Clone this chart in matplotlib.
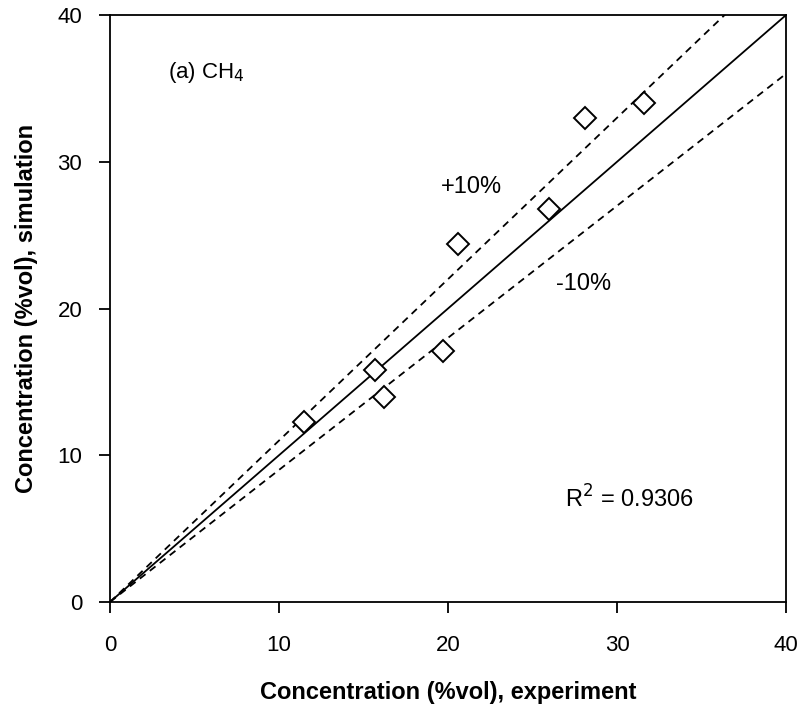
import numpy as np
from matplotlib import pyplot as plt

plt.rcParams['font.family'] = ['Liberation Sans', 'DejaVu Sans']

# measured vs simulated CH4 concentration (%vol)
experiment = [11.5, 15.7, 16.2, 19.7, 20.6, 26.0, 28.1, 31.6]
simulation = [12.3, 15.8, 14.0, 17.1, 24.4, 26.8, 33.0, 34.0]
r2_text = "R$^2$ = 0.9306"

fig = plt.figure(figsize=(8.08, 7.17), dpi=100)
ax = fig.add_axes([0.1361, 0.1604, 0.8367, 0.8186])

xline = np.array([0, 40])
ax.plot(xline, xline, color='black', lw=1.3)
ax.plot(xline, 1.1 * xline, color='black', lw=1.3, ls=(0, (4, 3)))
ax.plot(xline, 0.9 * xline, color='black', lw=1.3, ls=(0, (4, 3)))

ax.plot(experiment, simulation, ls='none', marker='D', ms=11,
        mfc='white', mec='black', mew=1.4, clip_on=False)

ax.text(3.45, 36.1, "(a) CH$_4$", fontsize=16, va='center')
ax.text(19.6, 28.3, "+10%", fontsize=17, va='center')
ax.text(26.4, 21.7, "-10%", fontsize=17, va='center')
ax.text(26.9, 7.0, r2_text, fontsize=17, va='center')

ax.set_xlim(0, 40)
ax.set_ylim(0, 40)
ax.set_xticks([0, 10, 20, 30, 40])
ax.set_yticks([0, 10, 20, 30, 40])
ax.tick_params(direction='out', length=8, width=1.3, labelsize=16)
ax.tick_params(axis='y', pad=12)
ax.tick_params(axis='x', pad=16)
for s in ax.spines.values():
    s.set_linewidth(1.3)

ax.set_xlabel("Concentration (%vol), experiment", fontsize=17, fontweight='bold', labelpad=18)
ax.set_ylabel("Concentration (%vol), simulation", fontsize=17, fontweight='bold', labelpad=14)

fig.savefig("out.png", dpi=100)
